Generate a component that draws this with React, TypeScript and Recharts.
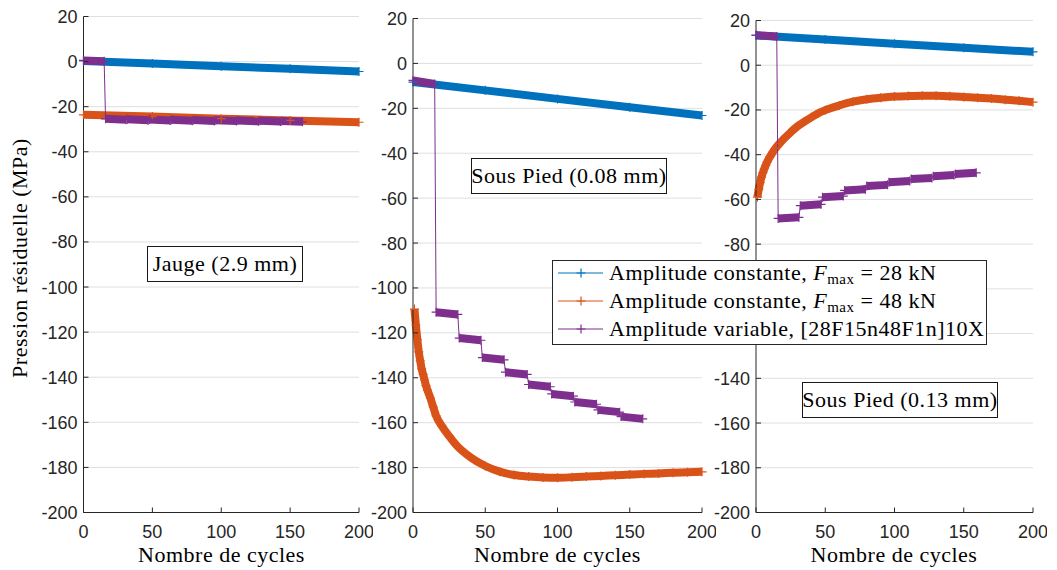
import React from "react";
import { LineChart, Line, XAxis, YAxis, CartesianGrid } from "recharts";

const BLUE = "#0072BD";
const ORANGE = "#D95319";
const PURPLE = "#7E2F8E";
const AXIS = "#262626";
const GRID = "#dfdfdf";
const SANS = '"Liberation Sans", Arial, sans-serif';
const SERIF = '"Liberation Serif", "Times New Roman", serif';

const X_TICKS = [0, 50, 100, 150, 200];
const Y_TICKS = [20, 0, -20, -40, -60, -80, -100, -120, -140, -160, -180, -200];

// [cycle, residual pressure MPa]
const JAUGE_28 = [[0, 0.3], [50, -0.9], [100, -2.1], [150, -3.2], [200, -4.4]];
const JAUGE_48 = [[0, -23.6], [50, -24.4], [100, -25.3], [150, -26.1], [200, -26.9]];
// [from cycle, to cycle, value at start, value at end]
const JAUGE_VAR = [
  [0, 15, 0.5, 0.1], [16, 31, -25.4, -25.8], [32, 47, -25.6, -26], [48, 63, -25.7, -26.1],
  [64, 79, -25.8, -26.2], [80, 95, -25.9, -26.3], [96, 111, -26, -26.4],
  [112, 127, -26.1, -26.5], [128, 143, -26.2, -26.6], [144, 159, -26.3, -26.7],
];

const PIED08_28 = [[0, -8.3], [50, -12], [100, -15.8], [150, -19.5], [200, -23.2]];
const PIED08_48 = [
  [1, -109.4], [2, -116.5], [3, -123], [4, -128.5], [5, -132.5], [6, -136], [7, -138.5],
  [8, -141], [9, -143.5], [10, -145.5], [12, -149], [14, -153], [16, -157], [20, -161.5],
  [25, -166], [30, -170], [40, -175.5], [50, -179.3], [60, -181.8], [70, -183.3],
  [80, -184], [90, -184.4], [100, -184.5], [110, -184.3], [120, -184], [130, -183.7],
  [140, -183.4], [150, -183.1], [160, -182.8], [170, -182.6], [180, -182.3],
  [190, -182.1], [200, -181.9],
];
const PIED08_VAR = [
  [0, 15, -7.6, -9.2], [16, 31, -110.8, -111.8], [32, 47, -122.3, -123.3],
  [48, 63, -131, -132], [64, 79, -137.5, -138.5], [80, 95, -143, -144],
  [96, 111, -147.2, -148.2], [112, 127, -150.8, -151.8], [128, 143, -154.3, -155.3],
  [144, 159, -157.3, -158.3],
];

const PIED13_28 = [[0, 13.3], [50, 11.5], [100, 9.6], [150, 7.8], [200, 6]];
const PIED13_48 = [
  [1, -59], [2, -55.5], [3, -52.5], [4, -50], [5, -48], [6, -46.3], [7, -44.8],
  [8, -43.3], [10, -41], [12, -39], [14, -37.2], [17, -35], [20, -33], [25, -30],
  [30, -27.3], [35, -25.2], [40, -23.3], [45, -21.5], [50, -20.1], [60, -18],
  [70, -16.3], [80, -15.2], [90, -14.5], [100, -14], [110, -13.8], [120, -13.7],
  [130, -13.7], [140, -13.9], [150, -14.2], [160, -14.5], [170, -14.9], [180, -15.4],
  [190, -15.9], [200, -16.5],
];
const PIED13_VAR = [
  [0, 15, 13.5, 12.8], [16, 31, -68.5, -68], [32, 47, -62.8, -62.2],
  [48, 63, -59, -58.5], [64, 79, -56, -55.5], [80, 95, -54, -53.5],
  [96, 111, -52.3, -51.8], [112, 127, -50.9, -50.4], [128, 143, -49.6, -49.1],
  [144, 159, -48.6, -48.1],
];

const LEGEND = [
  { color: BLUE, text: "Amplitude constante, ", f: "28" },
  { color: ORANGE, text: "Amplitude constante, ", f: "48" },
  { color: PURPLE, text: "Amplitude variable, [28F15n48F1n]10X", f: null },
];

const X_LABEL = "Nombre de cycles";
const Y_LABEL = "Pression résiduelle (MPa)";

const toPts = (a: number[][]) => a.map(([c, v]) => ({ c, v }));

const plusDot = (color: string, s = 4.5) => (p: any) => (
  <path
    key={p.index}
    d={p.cx == null ? "" : `M${p.cx - s},${p.cy}h${2 * s}M${p.cx},${p.cy - s}v${2 * s}`}
    stroke={color}
    strokeWidth={1.2}
    fill="none"
  />
);

function XTick({ x, y, payload }: any) {
  return (
    <g>
      <line x1={x} x2={x} y1={y} y2={y - 5} stroke={AXIS} />
      <text x={x} y={y + 25} textAnchor="middle" fontSize={18} style={{ fontFamily: SANS }} fill={AXIS}>
        {payload.value}
      </text>
    </g>
  );
}

function YTick({ x, y, payload }: any) {
  return (
    <g>
      <line x1={x + 6} x2={x + 11} y1={y} y2={y} stroke={AXIS} />
      <text x={x} y={y} dy="0.36em" textAnchor="end" fontSize={18} style={{ fontFamily: SANS }} fill={AXIS}>
        {payload.value}
      </text>
    </g>
  );
}

interface PanelProps {
  left: number;
  top: number;
  yw: number;
  plotW: number;
  c28: number[][];
  c48: number[][];
  blocks: number[][];
  smooth48?: boolean;
}

function Panel({ left, top, yw, plotW, c28, c48, blocks, smooth48 }: PanelProps) {
  const right = 14;
  const connector = blocks.flatMap(([a, b, va, vb]) => [{ c: a, v: va }, { c: b, v: vb }]);
  return (
    <div style={{ position: "absolute", left, top: 0 }}>
      <LineChart width={yw + plotW + right} height={570} margin={{ top, right, bottom: 0, left: 0 }}>
        <CartesianGrid vertical={false} stroke={GRID} />
        <XAxis
          type="number" dataKey="c" domain={[0, 200]} ticks={X_TICKS} interval={0}
          height={57.5} tickSize={0} tickMargin={0} tickLine={false}
          axisLine={{ stroke: AXIS }} tick={(p: any) => <XTick {...p} />}
        />
        <YAxis
          type="number" domain={[-200, 20]} ticks={Y_TICKS} interval={0}
          width={yw} tickSize={0} tickMargin={6} tickLine={false}
          axisLine={{ stroke: AXIS }} tick={(p: any) => <YTick {...p} />}
        />
        <Line
          data={toPts(c28)} dataKey="v" type="linear" stroke={BLUE} strokeWidth={8}
          dot={plusDot(BLUE)} isAnimationActive={false}
        />
        <Line
          data={toPts(c48)} dataKey="v" type={smooth48 ? "monotone" : "linear"} stroke={ORANGE}
          strokeWidth={8} dot={plusDot(ORANGE)} isAnimationActive={false}
        />
        <Line
          data={connector} dataKey="v" type="linear" stroke={PURPLE} strokeWidth={1}
          dot={false} isAnimationActive={false}
        />
        {blocks.map(([a, b, va, vb], i) => (
          <Line
            key={i}
            data={[{ c: a, v: va }, { c: b, v: vb }]} dataKey="v" type="linear"
            stroke={PURPLE} strokeWidth={8} dot={plusDot(PURPLE)} isAnimationActive={false}
          />
        ))}
      </LineChart>
    </div>
  );
}

const boxStyle: React.CSSProperties = {
  position: "absolute",
  background: "#fff",
  border: "1px solid #1a1a1a",
  fontFamily: SERIF,
  fontSize: 22,
  letterSpacing: 0.5,
  color: "#000",
  display: "flex",
  alignItems: "center",
  justifyContent: "center",
  boxSizing: "border-box",
  whiteSpace: "nowrap",
};

const labelStyle: React.CSSProperties = { fontFamily: SERIF, fontSize: 22, letterSpacing: 0.5 };

export default function App() {
  return (
    <div style={{ position: "absolute", left: 0, top: 0, width: 1057, height: 570, background: "#fff" }}>
      <Panel left={0} top={16.5} yw={83.5} plotW={275.5} c28={JAUGE_28} c48={JAUGE_48} blocks={JAUGE_VAR} />
      <Panel left={363} top={18.5} yw={50} plotW={289} c28={PIED08_28} c48={PIED08_48} blocks={PIED08_VAR} smooth48 />
      <Panel left={705.5} top={20.5} yw={50} plotW={277} c28={PIED13_28} c48={PIED13_48} blocks={PIED13_VAR} smooth48 />

      <svg style={{ position: "absolute", left: 0, top: 0, pointerEvents: "none" }} width={1057} height={570}>
        <g fill="#000" textAnchor="middle">
          <text transform="translate(27,258) rotate(-90)" style={labelStyle}>{Y_LABEL}</text>
          <text x={221.5} y={562} style={labelStyle}>{X_LABEL}</text>
          <text x={557.5} y={562} style={labelStyle}>{X_LABEL}</text>
          <text x={894} y={562} style={labelStyle}>{X_LABEL}</text>
        </g>
      </svg>

      <div style={{ ...boxStyle, left: 147, top: 246, width: 156, height: 36 }}>Jauge (2.9 mm)</div>
      <div style={{ ...boxStyle, left: 471, top: 158, width: 196, height: 36 }}>Sous Pied (0.08 mm)</div>
      <div style={{ ...boxStyle, left: 802, top: 382, width: 196, height: 36 }}>Sous Pied (0.13 mm)</div>

      <div
        style={{
          position: "absolute", left: 552, top: 260, width: 435, height: 85,
          background: "#fff", border: `1px solid ${AXIS}`, boxSizing: "border-box",
        }}
      >
        {LEGEND.map((item, i) => (
          <div
            key={i}
            style={{
              position: "absolute", left: 4, top: i * 28 - 2, height: 28, display: "flex",
              alignItems: "center", fontFamily: SERIF, fontSize: 22, letterSpacing: 0.5,
              whiteSpace: "nowrap", color: "#000",
            }}
          >
            <svg width={50} height={20} style={{ marginRight: 2 }}>
              <line x1={1} x2={46} y1={10} y2={10} stroke={item.color} strokeWidth={1} />
              <path d="M19.5,10h9M24,5.5v9" stroke={item.color} strokeWidth={1.2} />
            </svg>
            <span>
              {item.text}
              {item.f && (
                <>
                  <i>F</i>
                  <span style={{ fontSize: 15, position: "relative", top: 4 }}>max</span>
                  {` = ${item.f} kN`}
                </>
              )}
            </span>
          </div>
        ))}
      </div>
    </div>
  );
}
